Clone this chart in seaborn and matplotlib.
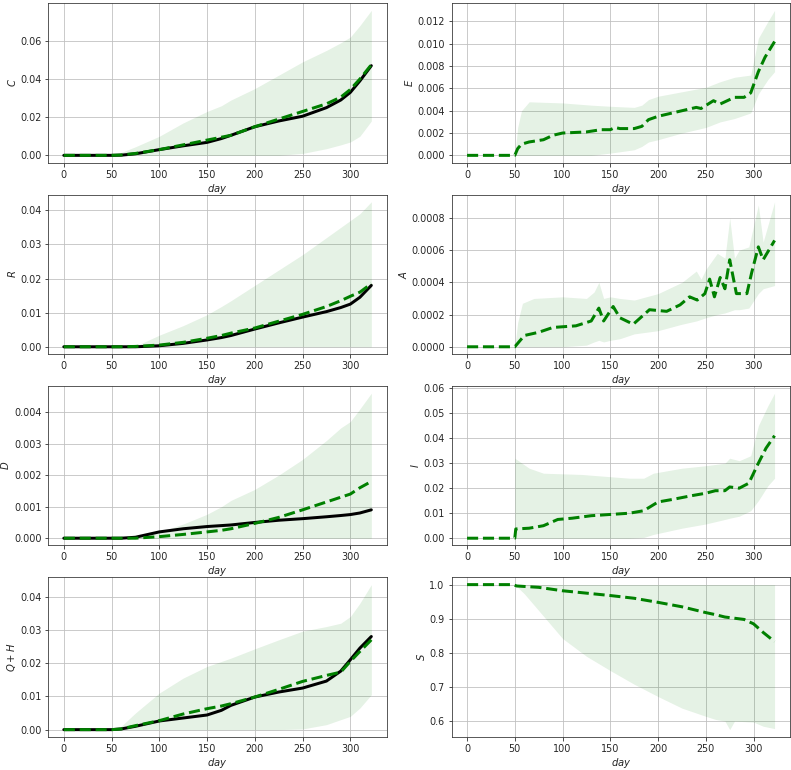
import matplotlib
matplotlib.use('Agg')
import matplotlib.pyplot as plt
import seaborn as sns

# common day grid for the observed compartments (left column)
left_day = [0, 50, 60, 75, 100, 125, 150, 165, 175, 200, 225, 250, 275, 290, 300, 310, 322]

C_obs = [0, 0, 0.0001, 0.0008, 0.003, 0.005, 0.0068, 0.0088, 0.0105, 0.015, 0.018, 0.0205, 0.025, 0.029, 0.033, 0.039, 0.047]
C_mean = [0, 0, 0.0002, 0.001, 0.003, 0.0055, 0.008, 0.0095, 0.0105, 0.015, 0.019, 0.023, 0.027, 0.0305, 0.0345, 0.040, 0.0475]
C_hi = [0, 0, 0.0015, 0.0045, 0.010, 0.017, 0.023, 0.026, 0.029, 0.035, 0.042, 0.049, 0.055, 0.059, 0.062, 0.068, 0.076]
C_lo = [0, 0, 0, 0, 0, 0, 0, 0, 0, 0, 0, 0.001, 0.0035, 0.0055, 0.007, 0.010, 0.018]

R_obs = [0, 0, 0, 0, 0.0003, 0.001, 0.002, 0.0027, 0.0033, 0.0052, 0.007, 0.0087, 0.0103, 0.0115, 0.0125, 0.0145, 0.018]
R_mean = [0, 0, 0, 0.0001, 0.0005, 0.0013, 0.0025, 0.0033, 0.004, 0.0055, 0.0075, 0.0095, 0.0118, 0.0135, 0.0148, 0.016, 0.0185]
R_hi = [0, 0, 0, 0.0002, 0.0034, 0.0062, 0.0094, 0.0118, 0.0135, 0.018, 0.0225, 0.027, 0.032, 0.035, 0.037, 0.039, 0.0425]
R_lo = [0] * 17

D_obs = [0, 0, 0, 0.00003, 0.0002, 0.0003, 0.00037, 0.0004, 0.00042, 0.0005, 0.00057, 0.00062, 0.00068, 0.00072, 0.00075, 0.0008, 0.0009]
D_mean = [0, 0, 0, 0, 0.00005, 0.00012, 0.0002, 0.00025, 0.0003, 0.00047, 0.00066, 0.0009, 0.00115, 0.0013, 0.0014, 0.0016, 0.0018]
D_hi = [0, 0, 0, 0.00001, 0.0002, 0.00045, 0.00076, 0.001, 0.0012, 0.00155, 0.002, 0.0025, 0.0031, 0.0035, 0.0037, 0.0041, 0.0046]
D_lo = [0] * 17

QH_obs = [0, 0, 0.0002, 0.001, 0.0026, 0.0035, 0.0044, 0.0058, 0.0073, 0.0098, 0.0113, 0.0125, 0.0146, 0.0176, 0.021, 0.0245, 0.028]
QH_mean = [0, 0, 0.0002, 0.0012, 0.0027, 0.0047, 0.0063, 0.0071, 0.0078, 0.0098, 0.0121, 0.0145, 0.0163, 0.0173, 0.0205, 0.0235, 0.027]
QH_hi = [0, 0, 0.001, 0.005, 0.011, 0.0155, 0.019, 0.0205, 0.0215, 0.0243, 0.027, 0.0296, 0.031, 0.032, 0.034, 0.038, 0.0436]
QH_lo = [0, 0, 0, 0, 0, 0, 0, 0, 0, 0, 0, 0.0002, 0.0015, 0.003, 0.004, 0.0065, 0.0105]

# unobserved compartments (right column)
E_day = [0, 50, 53, 57, 65, 80, 90, 100, 125, 140, 150, 155, 160, 175, 183, 190, 200, 215, 230, 240, 245, 258, 265, 280, 290, 297, 305, 312, 322]
E_mean = [0, 0, 0.0006, 0.001, 0.0012, 0.0014, 0.0018, 0.002, 0.0021, 0.0023, 0.0023, 0.0025, 0.0024, 0.0024, 0.0026, 0.0032, 0.0035, 0.0038, 0.0041, 0.0043, 0.0042, 0.0049, 0.0046, 0.0052, 0.0052, 0.0056, 0.0075, 0.0088, 0.0102]
E_band_day = [50, 53, 57, 65, 100, 130, 150, 175, 183, 190, 200, 225, 250, 265, 280, 297, 305, 315, 322]
E_hi = [0, 0.0025, 0.004, 0.0048, 0.0047, 0.0045, 0.0044, 0.0043, 0.0045, 0.005, 0.0053, 0.0057, 0.0061, 0.0066, 0.007, 0.0072, 0.0105, 0.012, 0.013]
E_lo = [0, 0, 0, 0, 0, 0, 0.0002, 0.0005, 0.0008, 0.0012, 0.0014, 0.002, 0.0025, 0.003, 0.0033, 0.0038, 0.0055, 0.0068, 0.0075]

A_day = [0, 50, 60, 75, 90, 114, 130, 138, 143, 153, 160, 174, 191, 209, 223, 233, 241, 249, 254, 259, 265, 270, 275, 282, 293, 298, 305, 310, 315, 322]
A_mean = [0, 0, 0.00007, 0.00009, 0.00012, 0.00013, 0.00016, 0.00024, 0.00016, 0.00025, 0.00018, 0.00014, 0.00023, 0.00022, 0.00026, 0.00031, 0.00029, 0.00033, 0.00042, 0.00031, 0.00043, 0.00036, 0.00054, 0.00033, 0.00033, 0.00046, 0.00062, 0.00054, 0.00059, 0.00066]
A_band_day = [50, 53, 58, 70, 100, 125, 133, 138, 143, 150, 160, 175, 200, 225, 240, 245, 250, 262, 270, 275, 280, 285, 295, 305, 310, 322]
A_hi = [0, 0.00015, 0.00027, 0.0003, 0.00031, 0.0003, 0.00034, 0.0004, 0.0003, 0.00031, 0.0003, 0.00029, 0.00033, 0.0004, 0.00047, 0.00042, 0.00048, 0.00058, 0.00055, 0.0008, 0.00055, 0.0006, 0.00062, 0.00088, 0.00065, 0.0009]
A_lo = [0, 0, 0, 0, 0, 0.00001, 0.00003, 0.00004, 0.00003, 0.00004, 0.00005, 0.00008, 0.0001, 0.00014, 0.00016, 0.00017, 0.00018, 0.0002, 0.00021, 0.00022, 0.00023, 0.00023, 0.00024, 0.00033, 0.00036, 0.00038]

I_day = [0, 50, 51, 65, 80, 95, 110, 130, 150, 170, 185, 200, 215, 235, 250, 260, 270, 275, 285, 295, 305, 313, 322]
I_mean = [0, 0, 0.0037, 0.004, 0.005, 0.0075, 0.008, 0.009, 0.0095, 0.01, 0.011, 0.0145, 0.0155, 0.017, 0.018, 0.019, 0.019, 0.0205, 0.02, 0.022, 0.03, 0.036, 0.041]
I_band_day = [50, 65, 80, 120, 170, 185, 195, 225, 250, 270, 275, 285, 297, 305, 315, 322]
I_hi = [0.032, 0.028, 0.026, 0.0255, 0.024, 0.024, 0.026, 0.028, 0.029, 0.030, 0.032, 0.031, 0.033, 0.045, 0.053, 0.058]
I_lo = [0, 0, 0, 0, 0, 0.0003, 0.0015, 0.004, 0.0057, 0.0075, 0.008, 0.0088, 0.011, 0.015, 0.021, 0.024]

S_day = [0, 48, 52, 75, 100, 125, 150, 175, 200, 225, 250, 260, 270, 290, 300, 310, 322]
S_mean = [1.0, 1.0, 0.996, 0.992, 0.982, 0.975, 0.968, 0.96, 0.948, 0.935, 0.918, 0.912, 0.905, 0.898, 0.885, 0.86, 0.833]
S_band_day = [50, 60, 75, 100, 125, 150, 175, 200, 225, 250, 260, 270, 275, 280, 300, 310, 322]
S_hi = [1.0] * 17
S_lo = [1.0, 0.973, 0.924, 0.842, 0.79, 0.748, 0.708, 0.672, 0.638, 0.614, 0.605, 0.6, 0.575, 0.6, 0.597, 0.585, 0.578]

sns.set_style('ticks', {'axes.grid': True, 'grid.color': '0.75', 'axes.edgecolor': '0.2'})
plt.rcParams['font.family'] = ['DejaVu Sans']

# the figure is laid out at 72 dpi, which gives 791 x 770 pixels
fig, axes = plt.subplots(4, 2, figsize=(791 / 72, 770 / 72), dpi=72)
fig.subplots_adjust(left=0.0612, right=0.9987, top=0.996, bottom=0.043, hspace=0.2, wspace=0.192)

left = [
    ('$C$', C_obs, C_mean, C_lo, C_hi),
    ('$R$', R_obs, R_mean, R_lo, R_hi),
    ('$D$', D_obs, D_mean, D_lo, D_hi),
    ('$Q+H$', QH_obs, QH_mean, QH_lo, QH_hi),
]
right = [
    ('$E$', E_day, E_mean, E_band_day, E_lo, E_hi),
    ('$A$', A_day, A_mean, A_band_day, A_lo, A_hi),
    ('$I$', I_day, I_mean, I_band_day, I_lo, I_hi),
    ('$S$', S_day, S_mean, S_band_day, S_lo, S_hi),
]

for i, (lab, obs, mean, lo, hi) in enumerate(left):
    ax = axes[i, 0]
    ax.fill_between(left_day, lo, hi, color='green', alpha=0.1, lw=0)
    sns.lineplot(x=left_day, y=obs, ax=ax, color='black', lw=3)
    sns.lineplot(x=left_day, y=mean, ax=ax, color='green', lw=3, linestyle='--')
    ax.set_ylabel(lab)
    ax.set_xlabel('$day$')

for i, (lab, day, mean, bday, lo, hi) in enumerate(right):
    ax = axes[i, 1]
    ax.fill_between(bday, lo, hi, color='green', alpha=0.1, lw=0)
    sns.lineplot(x=day, y=mean, ax=ax, color='green', lw=3, linestyle='--')
    ax.set_ylabel(lab)
    ax.set_xlabel('$day$')

for ax in axes.flat:
    ax.set_xticks([0, 50, 100, 150, 200, 250, 300])
    ax.tick_params(labelsize=9.6)
    ax.yaxis.labelpad = 2.5
    ax.xaxis.labelpad = 2

fig.savefig('out.png', dpi=72)
plt.close(fig)
